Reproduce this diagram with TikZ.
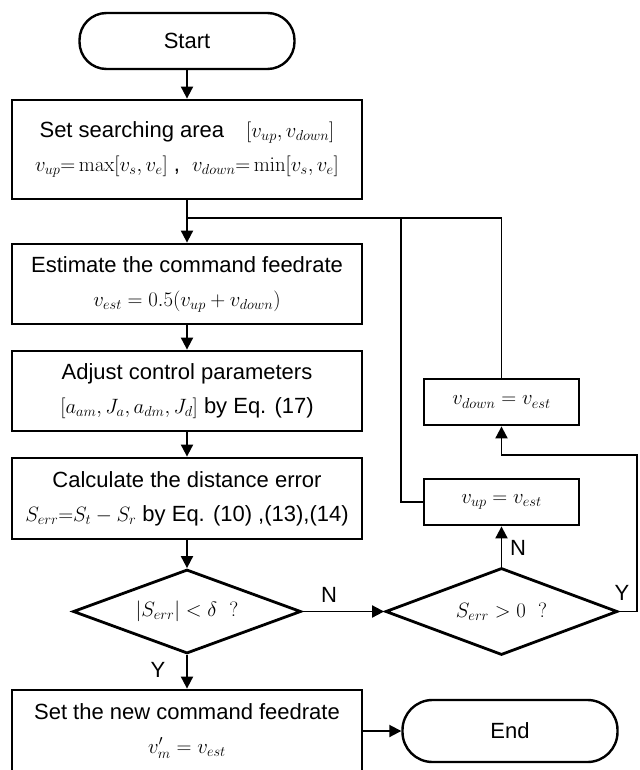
\documentclass[tikz,border=0pt]{standalone}
\usepackage[no-math]{fontspec}
\setmainfont{Liberation Sans}
\usepackage{tikz}
\usetikzlibrary{positioning}
\usetikzlibrary{shapes.geometric}
\usetikzlibrary{arrows.meta}

\begin{document}
\begin{tikzpicture}[
    x=1pt,y=-1pt,
    font=\fontsize{22}{34}\selectfont,
    procbox/.style={draw,line width=2.8pt,minimum width=350pt,align=center,inner sep=0pt},
    smallbox/.style={draw,line width=2.8pt,minimum width=155pt,minimum height=46pt,inner sep=0pt},
    term/.style={draw,line width=2.4pt,rounded corners=27pt,minimum width=215pt,minimum height=56pt},
    decision/.style={draw,diamond,line width=2.8pt,aspect=2.7,inner sep=0pt},
    arr/.style={line width=1.9pt,-{Triangle[length=12pt,width=12pt]}},
    link/.style={line width=1.9pt}
    ]
    \useasboundingbox (0,0) rectangle (639,770);

    \node[term] (start) at (187,41) {Start};
    \node[procbox,minimum height=99pt] (area) at (187,149.5)
        {Set searching area\quad $\Big[v_{up},v_{down}\Big]$\\
         $v_{up}{=}\max[v_s,v_e]$\ ,\ \ $v_{down}{=}\min[v_s,v_e]$};
    \node[procbox,minimum height=80pt] (est) at (187,284)
        {Estimate the command feedrate\\ $v_{est}=0.5\big(v_{up}+v_{down}\big)$};
    \node[procbox,minimum height=80pt] (adjust) at (187,391)
        {Adjust control parameters\\ $\big[a_{am},J_a,a_{dm},J_d\big]$ by Eq. (17)};
    \node[procbox,minimum height=81pt] (calc) at (187,498.5)
        {Calculate the distance error\\ $S_{err}{=}S_t-S_r$ by Eq. (10) ,(13),(14)};

    \node[decision,minimum width=228pt,minimum height=84pt] (check) at (187,611.5)
        {$\big|S_{err}\big|<\delta\ \ ?$};
    \node[decision,minimum width=232pt,minimum height=87pt] (sign) at (501.5,611.5)
        {$S_{err}>0\ \ ?$};

    \node[smallbox] (vup) at (501.5,502) {$v_{up}=v_{est}$};
    \node[smallbox] (vdown) at (501.5,402) {$v_{down}=v_{est}$};

    \node[procbox,minimum height=82pt] (final) at (187,731)
        {Set the new command feedrate\\ $v'_m=v_{est}$};
    \node[term,minimum height=62pt,rounded corners=30pt] (end) at (510,731) {End};

    % branch labels
    \node (lblN1) at (329,595) {N};
    \node (lblY1) at (158,670) {Y};
    \node (lblN2) at (518,548) {N};
    \node (lblY2) at (622,593) {Y};

    \coordinate (join) at (187,218);
    \coordinate (loopL) at (401,218);
    \coordinate (loopR) at (637,455);

    \path (start) edge[arr] (area)
    (area) edge[arr] (est)
    (est) edge[arr] (adjust)
    (adjust) edge[arr] (calc)
    (calc) edge[arr] (check)
    (check) edge[arr] (sign)
    (check) edge[arr] (final)
    (sign) edge[arr] (vup)
    (final) edge[arr] (end)
    ;

    \draw[link] (vup.west) -| (loopL) -- (join);
    \draw[link] (vdown.north) |- (loopL);
    \draw[arr] (sign.east) -| (loopR) -| (vdown.south);
  \end{tikzpicture}
\end{document}
